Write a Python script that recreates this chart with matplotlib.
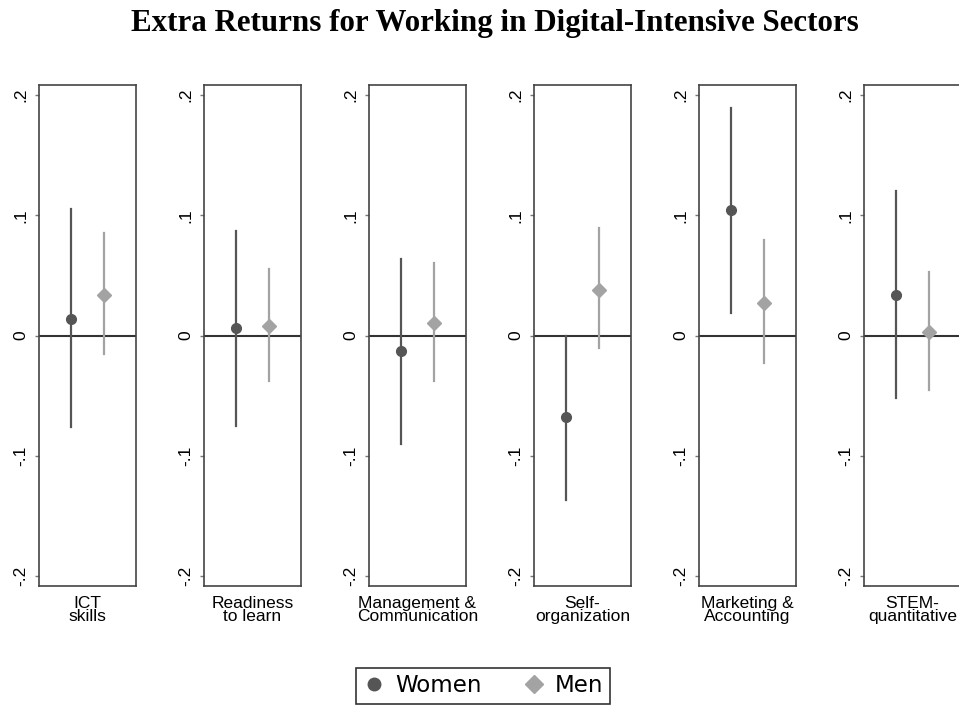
import matplotlib
matplotlib.use("Agg")
import matplotlib.pyplot as plt
from matplotlib.lines import Line2D

categories = ["ICT\nskills", "Readiness\nto learn", "Management &\nCommunication",
              "Self-\norganization", "Marketing &\nAccounting", "STEM-\nquantitative"]
women = [0.014, 0.006, -0.013, -0.068, 0.104, 0.034]
women_lo = [-0.076, -0.075, -0.090, -0.137, 0.019, -0.052]
women_hi = [0.105, 0.087, 0.064, 0.0, 0.189, 0.120]
men = [0.034, 0.008, 0.010, 0.038, 0.027, 0.003]
men_lo = [-0.015, -0.038, -0.038, -0.010, -0.023, -0.045]
men_hi = [0.085, 0.055, 0.060, 0.089, 0.079, 0.053]
yticks = [-0.2, -0.1, 0, 0.1, 0.2]
ytick_labels = ["-.2", "-.1", "0", ".1", ".2"]

W, H = 959, 708
fig = plt.figure(figsize=(W / 100, H / 100), dpi=100)
plt.rcParams['font.family'] = ['Liberation Sans', 'DejaVu Sans']

wcol = '#555555'
mcol = '#a3a3a3'
frame = '#444444'

lefts = [39, 204, 369, 534, 699, 864]
pw, top, bot = 97, 85, 586

for k, left in enumerate(lefts):
    ax = fig.add_axes([left / W, (H - bot) / H, pw / W, (bot - top) / H])
    ax.set_xlim(0, 3)
    ax.set_ylim(-0.2083, 0.2083)
    ax.axhline(0, color='#333333', lw=1.5, zorder=1)
    ax.plot([1, 1], [women_lo[k], women_hi[k]], color=wcol, lw=1.6, zorder=2)
    ax.plot([2, 2], [men_lo[k], men_hi[k]], color=mcol, lw=1.6, zorder=2)
    ax.plot(1, women[k], 'o', color=wcol, ms=7, zorder=3)
    ax.plot(2, men[k], 'D', color=mcol, ms=7, zorder=3)
    ax.set_xticks([])
    ax.set_yticks(yticks)
    ax.set_yticklabels(ytick_labels, rotation=90, va='center', fontsize=12.5)
    ax.tick_params(axis='y', length=3, width=1, color='#777777', pad=5)
    for s in ax.spines.values():
        s.set_color(frame)
        s.set_linewidth(1.2)
    ax.text(0.5, -0.02, categories[k], transform=ax.transAxes, ha='center', va='top',
            fontsize=12.5, linespacing=0.85)

fig.text(495 / W, 1 - 23 / H, "Extra Returns for Working in Digital-Intensive Sectors",
         ha='center', va='center', fontsize=22.3, fontweight='bold',
         family=['Liberation Serif', 'DejaVu Serif'])

handles = [Line2D([], [], marker='o', color=wcol, ls='none', ms=9),
           Line2D([], [], marker='D', color=mcol, ls='none', ms=9)]
leg = fig.legend(handles, ["Women", "Men"], loc='center', bbox_to_anchor=(483 / W, (H - 686) / H),
                 ncol=2, frameon=True, fancybox=False, edgecolor='black',
                 prop={'family': 'DejaVu Sans', 'size': 16.5}, handletextpad=0.4,
                 columnspacing=1.8, borderpad=0.3, handlelength=1.0)
leg.get_frame().set_linewidth(1.2)

fig.savefig("out.png", dpi=100)
